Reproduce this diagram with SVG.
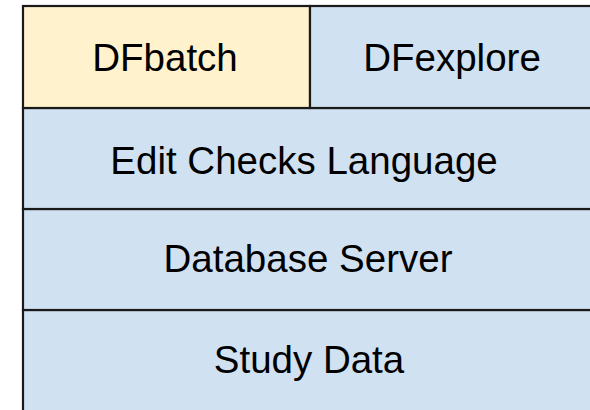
<svg xmlns="http://www.w3.org/2000/svg" width="590" height="410" viewBox="0 0 590 410">
<style>
.y{fill:#FFF2CC;stroke:#1a1a1a;stroke-width:2.2}
.b{fill:#D0E1F1;stroke:#1a1a1a;stroke-width:2.2}
text{font-family:"Liberation Sans",Arial,sans-serif;font-size:38.5px;fill:#000;text-anchor:middle}
</style>
<rect width="590" height="410" fill="#fff"/>
<g id="study-data"><rect class="b" x="23" y="310" width="570" height="102"/><text x="309" y="373">Study Data</text></g>
<g id="database-server"><rect class="b" x="23" y="209" width="570" height="101"/><text x="308" y="272">Database Server</text></g>
<g id="edit-checks"><rect class="b" x="23" y="108" width="570" height="101"/><text x="304" y="174">Edit Checks Language</text></g>
<g id="dfbatch"><rect class="y" x="23" y="6" width="287" height="102"/><text x="165" y="71">DFbatch</text></g>
<g id="dfexplore"><rect class="b" x="310" y="6" width="283" height="102"/><text x="452" y="71">DFexplore</text></g>
<g id="connectors"/>
</svg>
